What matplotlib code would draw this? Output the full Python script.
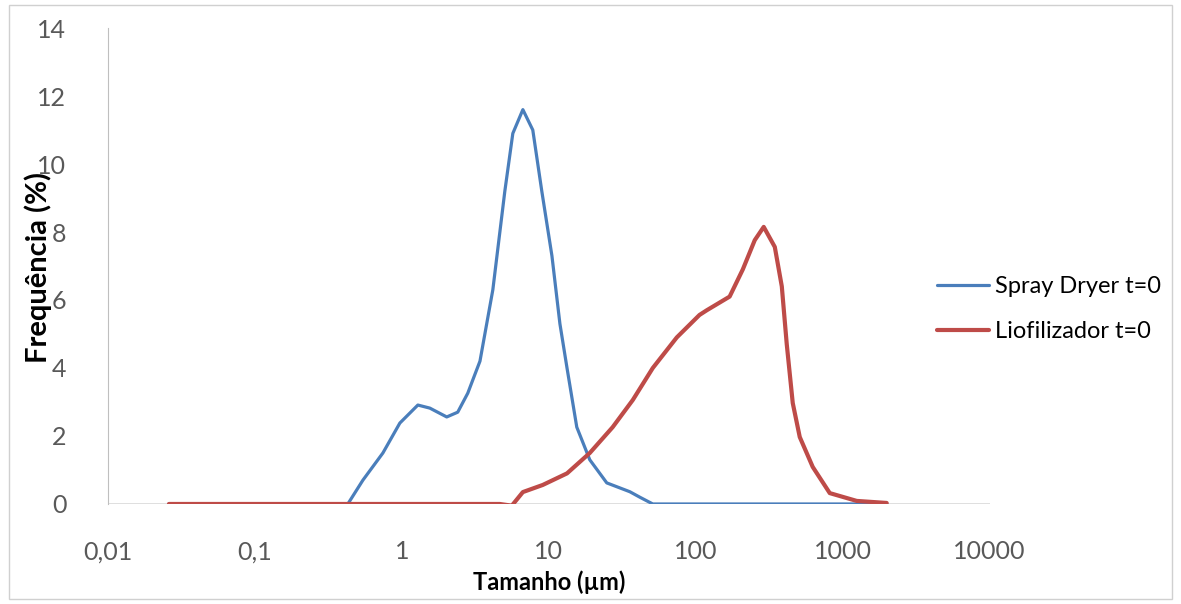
import matplotlib.pyplot as plt
from matplotlib.patches import Rectangle

# particle size distribution
spray_size = [0.026, 0.1, 0.3, 0.429, 0.543, 0.743, 0.969, 1.285, 1.55, 2.02, 2.40,
              2.81, 3.04, 3.40, 4.16, 5.02, 5.69, 6.66, 7.78, 8.96, 10.5, 11.9,
              13.3, 15.5, 19.0, 24.8, 35.6, 41.6, 51.0, 100, 500, 2000]
spray_freq = [0, 0, 0, 0, 0.7, 1.5, 2.38, 2.91, 2.82, 2.56, 2.7,
              3.26, 3.65, 4.2, 6.3, 9.2, 10.9, 11.6, 11.0, 9.2, 7.3, 5.3,
              4.0, 2.26, 1.3, 0.62, 0.36, 0.2, 0, 0, 0, 0]

lio_size = [0.026, 0.1, 1, 4.64, 5.60, 6.66, 9.10, 13.3, 19.0, 27.2, 37.3, 51.0,
            74.3, 106, 119, 170, 209, 252, 290, 345, 385, 416, 457, 510,
            625, 816, 1245, 1991]
lio_freq = [0, 0, 0, 0, -0.05, 0.35, 0.56, 0.9, 1.5, 2.26, 3.06, 4.0,
            4.9, 5.56, 5.7, 6.1, 6.9, 7.76, 8.15, 7.56, 6.4, 4.7, 2.97, 1.97,
            1.09, 0.32, 0.09, 0.03]

xticks = [0.01, 0.1, 1, 10, 100, 1000, 10000]
xlabels = ["0,01", "0,1", "1", "10", "100", "1000", "10000"]
yticks = [0, 2, 4, 6, 8, 10, 12, 14]

plt.rcParams['font.family'] = ['Lato', 'DejaVu Sans']

fig = plt.figure(figsize=(11.81, 6.04), dpi=100)
fig.patches.append(Rectangle((0.008, 0.008), 0.984, 0.984, transform=fig.transFigure,
                             fill=False, edgecolor="#d0d0d0", linewidth=1))
ax = fig.add_axes([0.0914, 0.1656, 0.7466, 0.788])

ax.plot(spray_size, spray_freq, color="#4a7ebb", linewidth=2.3,
        solid_joinstyle="round", solid_capstyle="round", label="Spray Dryer t=0")
ax.plot(lio_size, lio_freq, color="#be4b48", linewidth=3.0,
        solid_joinstyle="round", solid_capstyle="round", label="Liofilizador t=0")

ax.set_xscale("log")
ax.set_xlim(0.01, 10000)
ax.set_ylim(0, 14)
ax.set_xticks(xticks)
ax.set_xticklabels(xlabels)
ax.minorticks_off()
ax.set_yticks(yticks)
ax.axhline(0, color="#d9d9d9", linewidth=1.2, zorder=0)

for s in ["top", "right", "bottom"]:
    ax.spines[s].set_visible(False)
ax.spines["left"].set_color("#bfbfbf")
ax.tick_params(length=0, labelsize=18, labelcolor="#595959")
ax.tick_params(axis="x", pad=26)
ax.tick_params(axis="y", pad=30)

ax.set_xlabel("Tamanho (µm)", fontsize=17, fontweight="bold", labelpad=5)
ax.set_ylabel("Frequência (%)", fontsize=21, fontweight="bold")
ax.yaxis.set_label_coords(-0.063, 0.496)

ax.legend(loc="center left", bbox_to_anchor=(937 / 1181, 1 - 309 / 604),
          bbox_transform=fig.transFigure, frameon=False, borderpad=0,
          borderaxespad=0, fontsize=17, handlelength=2.2, handletextpad=0.25,
          labelspacing=1.0)

fig.savefig("out.png", dpi=100)
